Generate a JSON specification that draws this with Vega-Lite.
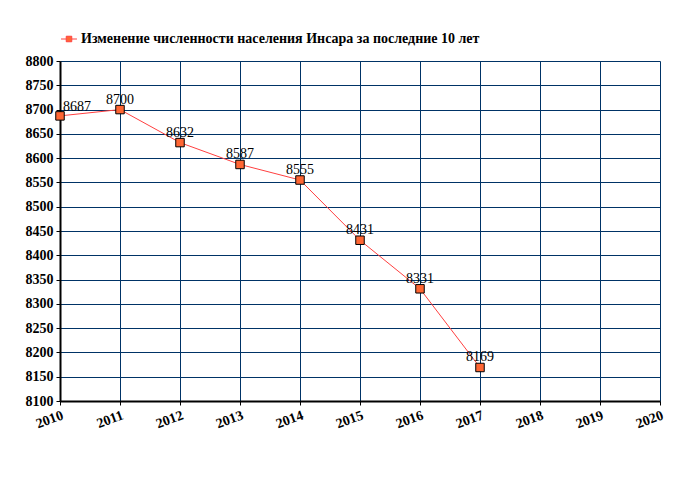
{
  "$schema": "https://vega.github.io/schema/vega-lite/v6.json",
  "width": 600,
  "height": 340,
  "autosize": "none",
  "padding": {"left": 60, "top": 61, "right": 20, "bottom": 99},
  "background": "white",
  "config": {
    "view": {"stroke": null},
    "font": "Liberation Serif"
  },
  "data": {
    "values": [
      {"year": 2010, "value": 8687, "series": "Изменение численности населения Инсара за последние 10 лет"},
      {"year": 2011, "value": 8700, "series": "Изменение численности населения Инсара за последние 10 лет"},
      {"year": 2012, "value": 8632, "series": "Изменение численности населения Инсара за последние 10 лет"},
      {"year": 2013, "value": 8587, "series": "Изменение численности населения Инсара за последние 10 лет"},
      {"year": 2014, "value": 8555, "series": "Изменение численности населения Инсара за последние 10 лет"},
      {"year": 2015, "value": 8431, "series": "Изменение численности населения Инсара за последние 10 лет"},
      {"year": 2016, "value": 8331, "series": "Изменение численности населения Инсара за последние 10 лет"},
      {"year": 2017, "value": 8169, "series": "Изменение численности населения Инсара за последние 10 лет"}
    ]
  },
  "encoding": {
    "x": {
      "field": "year", "type": "quantitative",
      "scale": {"domain": [2010, 2020], "nice": false, "zero": false},
      "axis": {
        "title": null, "values": [2010, 2011, 2012, 2013, 2014, 2015, 2016, 2017, 2018, 2019, 2020],
        "format": "d", "labelAngle": -20, "labelAlign": "right", "labelBaseline": "top",
        "labelFont": "Liberation Serif", "labelFontWeight": "bold", "labelFontSize": 14,
        "labelColor": "black", "labelPadding": 3, "labelOverlap": false, "labelBound": false, "labelFlush": false,
        "domainColor": "black", "domainWidth": 2, "tickColor": "black", "tickSize": 4, "tickWidth": 1,
        "gridColor": "#003366", "gridWidth": 1, "gridOpacity": 1
      }
    },
    "y": {
      "field": "value", "type": "quantitative",
      "scale": {"domain": [8100, 8800], "nice": false, "zero": false},
      "axis": {
        "title": null, "values": [8100, 8150, 8200, 8250, 8300, 8350, 8400, 8450, 8500, 8550, 8600, 8650, 8700, 8750, 8800],
        "format": "d", "labelFont": "Liberation Serif", "labelFontWeight": "bold", "labelFontSize": 14,
        "labelColor": "black", "labelPadding": 3, "labelOverlap": false,
        "domainColor": "black", "domainWidth": 2, "tickColor": "black", "tickSize": 4,
        "gridColor": "#003366", "gridWidth": 1, "gridOpacity": 1
      }
    }
  },
  "layer": [
    {
      "mark": {"type": "line", "color": "#ff4040", "strokeWidth": 1}
    },
    {
      "mark": {"type": "point", "shape": "square", "filled": true, "size": 72, "stroke": "black", "strokeWidth": 1, "opacity": 1},
      "encoding": {
        "color": {
          "field": "series", "type": "nominal",
          "scale": {"range": ["#ff6633"]},
          "legend": {
            "title": null, "orient": "none", "legendX": 2, "legendY": -29,
            "symbolType": "M-1.3,0H-0.45M0.45,0H1.3M-0.45,-0.45H0.45V0.45H-0.45Z",
            "symbolSize": 150, "symbolStrokeColor": "#ff4040", "symbolStrokeWidth": 1,
            "labelFont": "Liberation Serif", "labelFontWeight": "bold", "labelFontSize": 14,
            "labelColor": "black", "labelLimit": 600, "labelOffset": 5
          }
        }
      }
    },
    {
      "transform": [{"filter": "datum.year == 2010"}],
      "mark": {"type": "text", "align": "left", "baseline": "bottom", "dx": 3, "dy": -2, "font": "Liberation Serif", "fontSize": 14, "color": "black"},
      "encoding": {"text": {"field": "value", "type": "quantitative", "format": "d"}}
    },
    {
      "transform": [{"filter": "datum.year != 2010"}],
      "mark": {"type": "text", "align": "center", "baseline": "bottom", "dy": -3, "font": "Liberation Serif", "fontSize": 14, "color": "black"},
      "encoding": {"text": {"field": "value", "type": "quantitative", "format": "d"}}
    }
  ]
}
